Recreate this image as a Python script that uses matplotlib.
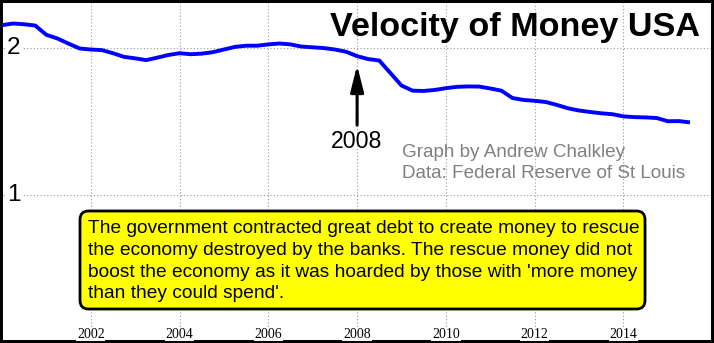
import matplotlib
matplotlib.use("Agg")
import matplotlib.pyplot as plt
from matplotlib.patches import FancyBboxPatch
import numpy as np

# Quarterly velocity of M2 money stock, 2000 Q1 onwards
start_year = 2000
velocity = [
    2.156, 2.167, 2.162, 2.153, 2.090, 2.065, 2.030, 1.997,
    1.990, 1.986, 1.965, 1.940, 1.930, 1.918, 1.935, 1.953,
    1.965, 1.958, 1.962, 1.972, 1.990, 2.008, 2.016, 2.016,
    2.025, 2.031, 2.025, 2.010, 2.005, 2.000, 1.990, 1.975,
    1.945, 1.925, 1.915, 1.830, 1.745, 1.710, 1.708, 1.715,
    1.727, 1.736, 1.739, 1.738, 1.725, 1.710, 1.660, 1.647,
    1.641, 1.633, 1.613, 1.590, 1.575, 1.565, 1.556, 1.550,
    1.535, 1.530, 1.528, 1.524, 1.502, 1.503, 1.494,
]
x_ticks = [2002, 2004, 2006, 2008, 2010, 2012, 2014]
y_ticks = [1, 2]
event_year = 2008
title = "Velocity of Money USA"
credit_lines = ["Graph by Andrew Chalkley", "Data: Federal Reserve of St Louis"]
note_lines = [
    "The government contracted great debt to create money to rescue",
    "the economy destroyed by the banks. The rescue money did not",
    "boost the economy as it was hoarded by those with 'more money",
    "than they could spend'.",
]

W, H = 714, 343
fig = plt.figure(figsize=(W / 100, H / 100), dpi=100)
ax = fig.add_axes([0, 0, 1, 1])
ax.set_xlim(1999.955, 2016.04)
ax.set_ylim(-0.007, 2.327)
ax.set_xticks([])
ax.set_yticks([])
for s in ax.spines.values():
    s.set_linewidth(4.3)
    s.set_color("black")


def fx(px):
    return px / W


def fy(py):
    return 1 - py / H


grid_kw = dict(color="#999999", linewidth=0.8, linestyle=(0, (1, 2)), zorder=1)
for xt in x_ticks:
    ax.axvline(xt, **grid_kw)
for yt in y_ticks:
    ax.axhline(yt, **grid_kw)

years = start_year + 0.25 * np.arange(len(velocity))
ax.plot(years, velocity, color="#0000ff", linewidth=2.8, zorder=4,
        solid_joinstyle="round", solid_capstyle="butt")

# axis labels drawn inside the frame
for xt in x_ticks:
    ax.text(xt, fy(334), str(xt), transform=ax.get_xaxis_transform(),
            ha="center", va="center", family="Liberation Serif", fontsize=10,
            zorder=3, bbox=dict(facecolor="white", edgecolor="none", pad=0.6))
for yt in y_ticks:
    ax.text(fx(14), yt, str(yt), transform=ax.get_yaxis_transform(),
            ha="center", va="center", family="Liberation Sans", fontsize=17.5,
            zorder=3, bbox=dict(facecolor="white", edgecolor="none", pad=1.5))

fig.text(fx(700), fy(36), title, ha="right", va="baseline",
         family="Liberation Sans", fontweight="bold", fontsize=24.6, zorder=5)

# arrow marking 2008
ax.annotate("", xy=(event_year, 1.884), xytext=(event_year, 1.476),
            arrowprops=dict(arrowstyle="-|>,head_length=1.6,head_width=0.4",
                            color="black", linewidth=2.2, shrinkA=0, shrinkB=0),
            zorder=5)
fig.text(fx(357), fy(147.5), str(event_year), ha="center", va="baseline",
         family="Liberation Sans", fontsize=16.7, zorder=5)

for i, line in enumerate(credit_lines):
    fig.text(fx(402), fy(156.7 + 21.3 * i), line, ha="left", va="baseline",
             family="Liberation Sans", fontsize=13.6, color="#808080", zorder=5)

box = FancyBboxPatch((fx(80), fy(309)), fx(645) - fx(80), fy(211) - fy(309),
                     boxstyle="round,pad=0,rounding_size=0.012",
                     transform=fig.transFigure, facecolor="#ffff00",
                     edgecolor="black", linewidth=2.0, zorder=6,
                     mutation_aspect=W / H)
fig.add_artist(box)
for i, line in enumerate(note_lines):
    fig.text(fx(88), fy(233.3 + 21.7 * i), line, ha="left", va="baseline",
             family="Liberation Sans", fontsize=13.8, zorder=7)

fig.savefig("out.png", dpi=100)
